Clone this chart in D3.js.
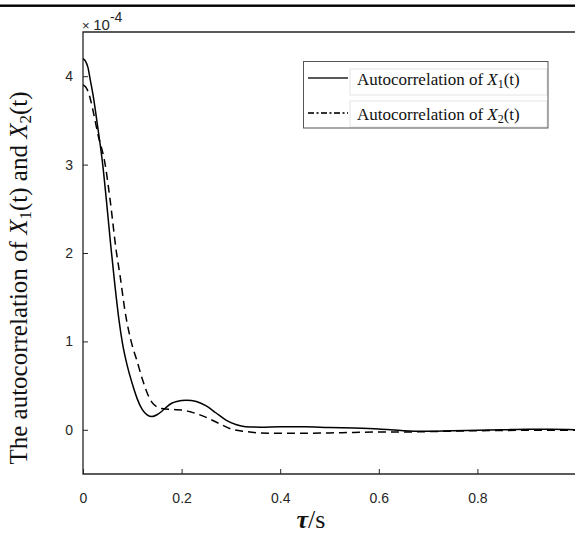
<!DOCTYPE html>
<html><head><meta charset="utf-8">
<script src="https://cdn.jsdelivr.net/npm/d3@7"></script>
<style>html,body{margin:0;padding:0;background:#fff;}svg{display:block;}</style>
</head><body>
<script>
// ---- data (values in units of 1e-4) ----
const tau1 = [0,0.005,0.01,0.015,0.02,0.03,0.04,0.05,0.056,0.065,0.073,0.08,0.09,0.10,0.11,0.12,0.13,0.14,0.15,0.16,0.17,0.18,0.19,0.21,0.23,0.25,0.27,0.29,0.31,0.33,0.36,0.40,0.45,0.50,0.55,0.60,0.65,0.69,0.75,0.80,0.85,0.90,0.95,1.0];
const acf1 = [4.20,4.17,4.10,3.95,3.80,3.42,3.00,2.45,2.10,1.62,1.24,0.98,0.72,0.52,0.35,0.23,0.17,0.15,0.17,0.21,0.26,0.30,0.32,0.335,0.32,0.27,0.19,0.11,0.06,0.035,0.03,0.035,0.035,0.025,0.02,0.01,-0.01,-0.017,-0.01,-0.005,0.0,0.005,0.005,0.0];
const tau2 = [0,0.005,0.01,0.015,0.02,0.03,0.045,0.055,0.068,0.075,0.085,0.10,0.109,0.12,0.13,0.14,0.15,0.16,0.18,0.20,0.22,0.25,0.28,0.30,0.33,0.36,0.40,0.45,0.50,0.55,0.60,0.65,0.70,0.75,0.80,0.85,0.90,1.0];
const acf2 = [3.90,3.88,3.83,3.74,3.62,3.35,3.00,2.60,2.00,1.75,1.35,0.95,0.79,0.58,0.42,0.31,0.26,0.24,0.23,0.225,0.20,0.14,0.06,0.01,-0.02,-0.035,-0.04,-0.04,-0.035,-0.03,-0.025,-0.025,-0.02,-0.015,-0.01,-0.008,-0.005,-0.005];
const xTicks = [0,0.2,0.4,0.6,0.8];
const xTickLabels = ["0","0.2","0.4","0.6","0.8"];
const yTicks = [0,1,2,3,4];
const yTickLabels = ["0","1","2","3","4"];
const legendLabels = ["1","2"];

const W = 575, H = 534;
const L = 83, T = 32, B = 474, R = 576;
const svg = d3.select("body").append("svg").attr("width", W).attr("height", H)
  .style("font-family","'Liberation Sans', Arial, sans-serif");

// top rule
svg.append("rect").attr("x",0).attr("y",4.5).attr("width",W).attr("height",2.4).attr("fill","#000");

const x = d3.scaleLinear().domain([0,1]).range([L,R]);
const y = d3.scaleLinear().domain([-0.5,4.5]).range([B,T]);

svg.append("defs").append("clipPath").attr("id","clip")
  .append("rect").attr("x",L).attr("y",T).attr("width",R-L).attr("height",B-T);

const axisColor = "#262626";
// axes
const gx = svg.append("g").attr("transform",`translate(0,${B})`)
  .call(d3.axisBottom(x).tickValues(xTicks).tickFormat((d,i)=>xTickLabels[i]).tickSize(-5).tickSizeOuter(0).tickPadding(19));
const gy = svg.append("g").attr("transform",`translate(${L},0)`)
  .call(d3.axisLeft(y).tickValues(yTicks).tickFormat((d,i)=>yTickLabels[i]).tickSize(-5).tickSizeOuter(0).tickPadding(10));
[gx,gy].forEach(g=>{
  g.select(".domain").remove();
  g.selectAll("line").attr("stroke",axisColor).attr("stroke-width",1);
  g.selectAll("text").attr("fill",axisColor).style("font-size","14px").style("font-family","'Liberation Sans', Arial, sans-serif");
});
// box (left, top, bottom)
svg.append("path").attr("d",`M${R},${T}H${L}V${B}H${R}`).attr("fill","none")
  .attr("stroke",axisColor).attr("stroke-width",1.3);

// exponent
const ex = svg.append("text").attr("x",L-1).attr("y",30).attr("fill",axisColor).style("font-size","15px");
ex.append("tspan").style("font-size","13px").text("\u00d7 ");
ex.append("tspan").text("10");
ex.append("tspan").attr("dy",-8).style("font-size","14px").text("-4");

// lines
const line = d3.line().x(d=>x(d[0])).y(d=>y(d[1])).curve(d3.curveMonotoneX);
const plot = svg.append("g").attr("clip-path","url(#clip)");
plot.append("path").datum(tau1.map((t,i)=>[t,acf1[i]])).attr("d",line)
  .attr("fill","none").attr("stroke","#000").attr("stroke-width",1.5);
plot.append("path").datum(tau2.map((t,i)=>[t,acf2[i]])).attr("d",line)
  .attr("fill","none").attr("stroke","#000").attr("stroke-width",1.5).attr("stroke-dasharray","8,5");

// legend
const lg = svg.append("g").style("font-family","'Liberation Serif','Times New Roman',serif");
lg.append("rect").attr("x",350).attr("y",69).attr("width",197).attr("height",26).attr("fill","none").attr("stroke","#e4e4e4");
lg.append("rect").attr("x",350).attr("y",101).attr("width",197).attr("height",26).attr("fill","none").attr("stroke","#e4e4e4");
lg.append("rect").attr("x",303.5).attr("y",61.5).attr("width",244.5).attr("height",66.5).attr("fill","none").attr("stroke","#555").attr("stroke-width",1);
const rows = [{y:78, dash:null, w:1.5},{y:113, dash:"6,2.5,2,2.5", w:2.2}];
rows.forEach((r,i)=>{
  lg.append("line").attr("x1",308).attr("x2",348).attr("y1",r.y).attr("y2",r.y)
    .attr("stroke", i===0?"#222":"#333").attr("stroke-width",r.w).attr("stroke-dasharray",r.dash);
  const t = lg.append("text").attr("x",357).attr("y",r.y+7).attr("fill","#111").style("font-size","17px");
  t.append("tspan").text("Autocorrelation of ");
  t.append("tspan").style("font-style","italic").text("X");
  t.append("tspan").attr("dy",3).style("font-size","12px").text(legendLabels[i]);
  t.append("tspan").attr("dy",-3).text("(t)");
});

// y label
const yl = svg.append("text").attr("transform",`translate(27,278) rotate(-90)`)
  .attr("text-anchor","middle").attr("fill","#111")
  .style("font-family","'Liberation Serif','Times New Roman',serif").style("font-size","25px");
yl.append("tspan").text("The autocorrelation of ");
yl.append("tspan").style("font-style","italic").text("X");
yl.append("tspan").attr("dy",4).style("font-size","17px").text("1");
yl.append("tspan").attr("dy",-4).text("(t) and ");
yl.append("tspan").style("font-style","italic").text("X");
yl.append("tspan").attr("dy",4).style("font-size","17px").text("2");
yl.append("tspan").attr("dy",-4).text("(t)");

// x label
const xl = svg.append("text").attr("x",311).attr("y",528).attr("text-anchor","middle").attr("fill","#111")
  .style("font-family","'Liberation Serif','Times New Roman',serif").style("font-size","26px");
xl.append("tspan").style("font-style","italic").style("font-weight","bold").text("\u03c4");
xl.append("tspan").text("/s");
</script>
</body></html>
